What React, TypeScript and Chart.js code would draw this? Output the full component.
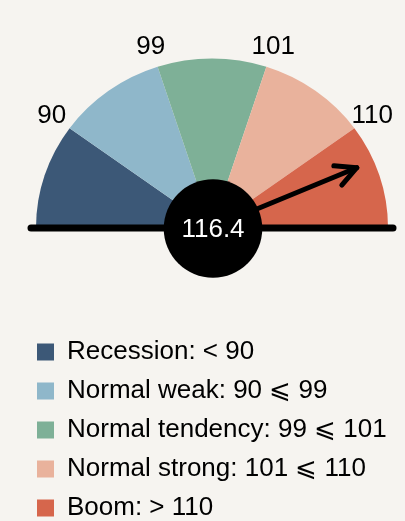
import React, { useEffect, useRef } from "react";
import { Chart, registerables } from "chart.js";

Chart.register(...registerables);

const categories = [
  "Recession: < 90",
  "Normal weak: 90 \u2A7D 99",
  "Normal tendency: 99 \u2A7D 101",
  "Normal strong: 101 \u2A7D 110",
  "Boom: > 110",
];
const segmentSizes = [1, 1, 1, 1, 1];
const segmentColors = ["#3c5877", "#8fb7ca", "#7eb097", "#e9b29c", "#d6664c"];
const thresholdLabels = ["90", "99", "101", "110"];
const segmentBounds = [80, 90, 99, 101, 110, 127];
const gaugeValue = 116.4;

const FONT = "'Liberation Sans', Arial, sans-serif";
const CANVAS_TOP = -47;
const CANVAS_H = 578;
const SQUASH = 0.96;

const gaugePlugin = {
  id: "gaugeExtras",
  beforeDatasetsDraw(chart: any) {
    const arcs = chart.getDatasetMeta(0).data;
    const ctx = chart.ctx;
    ctx.save();
    if (!arcs.length) return;
    const cx = arcs[0].x;
    const cy = arcs[0].y;
    ctx.translate(cx, cy);
    ctx.scale(1, SQUASH);
    ctx.translate(-cx, -cy);
  },
  afterDatasetsDraw(chart: any) {
    const ctx = chart.ctx;
    ctx.restore();
    const arcs = chart.getDatasetMeta(0).data;
    if (!arcs.length) return;
    const cx = arcs[0].x;
    const cy = arcs[0].y;
    const r = arcs[0].outerRadius;
    ctx.save();

    // threshold labels at segment boundaries
    ctx.fillStyle = "#000";
    ctx.font = `26px ${FONT}`;
    ctx.textAlign = "center";
    ctx.textBaseline = "middle";
    for (let i = 0; i < thresholdLabels.length; i++) {
      const a = arcs[i].endAngle;
      const lr = r + 22;
      ctx.fillText(thresholdLabels[i], cx + lr * Math.cos(a), cy + SQUASH * lr * Math.sin(a));
    }

    // baseline
    ctx.strokeStyle = "#000";
    ctx.lineWidth = 7;
    ctx.lineCap = "round";
    ctx.beginPath();
    ctx.moveTo(cx - r - 5, cy + 0.5);
    ctx.lineTo(cx + r + 5, cy + 0.5);
    ctx.stroke();

    // needle
    let seg = segmentBounds.length - 2;
    for (let i = 0; i < segmentBounds.length - 1; i++) {
      if (gaugeValue >= segmentBounds[i] && gaugeValue <= segmentBounds[i + 1]) {
        seg = i;
        break;
      }
    }
    const frac = (gaugeValue - segmentBounds[seg]) / (segmentBounds[seg + 1] - segmentBounds[seg]);
    const ang = arcs[seg].startAngle + frac * (arcs[seg].endAngle - arcs[seg].startAngle);
    const len = r * 0.89;
    const tx = cx + len * Math.cos(ang);
    const ty = cy + len * Math.sin(ang);
    ctx.lineWidth = 5;
    ctx.lineCap = "round";
    ctx.lineJoin = "round";
    ctx.beginPath();
    ctx.moveTo(cx, cy);
    ctx.lineTo(tx, ty);
    ctx.stroke();
    const head = 23;
    const spread = (27 * Math.PI) / 180;
    const back = ang + Math.PI;
    ctx.beginPath();
    ctx.moveTo(tx + head * Math.cos(back - spread), ty + head * Math.sin(back - spread));
    ctx.lineTo(tx, ty);
    ctx.lineTo(tx + head * Math.cos(back + spread), ty + head * Math.sin(back + spread));
    ctx.stroke();

    // center disc with value
    ctx.fillStyle = "#000";
    ctx.beginPath();
    ctx.arc(cx + 1, cy + 1, r * 0.28, 0, Math.PI * 2);
    ctx.fill();
    ctx.fillStyle = "#fff";
    ctx.font = `26px ${FONT}`;
    ctx.fillText(String(gaugeValue), cx + 1, cy + 2);
    ctx.restore();
  },
};

export default function App() {
  const ref = useRef<HTMLCanvasElement | null>(null);
  useEffect(() => {
    if (!ref.current) return;
    const chart = new Chart(ref.current, {
      type: "doughnut",
      data: {
        labels: categories,
        datasets: [
          {
            data: segmentSizes,
            backgroundColor: segmentColors,
            borderWidth: 0,
            radius: 176,
          } as any,
        ],
      },
      options: {
        responsive: false,
        animation: false,
        devicePixelRatio: 1,
        rotation: -90,
        circumference: 180,
        cutout: 0,
        events: [],
        layout: { padding: { left: 24, right: 5, top: 0, bottom: 0 } },
        plugins: {
          tooltip: { enabled: false },
          legend: {
            position: "bottom",
            align: "start",
            labels: {
              boxWidth: 17,
              boxHeight: 17,
              padding: 13,
              color: "#000",
              font: { size: 26, family: FONT },
            },
          },
        },
      },
      plugins: [gaugePlugin],
    });
    return () => chart.destroy();
  }, []);
  return (
    <div
      style={{
        position: "fixed",
        left: 0,
        top: 0,
        width: 405,
        height: 521,
        overflow: "hidden",
        background: "#f6f4f0",
      }}
    >
      <canvas
        ref={ref}
        width={405}
        height={CANVAS_H}
        style={{ display: "block", position: "absolute", left: 0, top: CANVAS_TOP }}
      />
    </div>
  );
}
